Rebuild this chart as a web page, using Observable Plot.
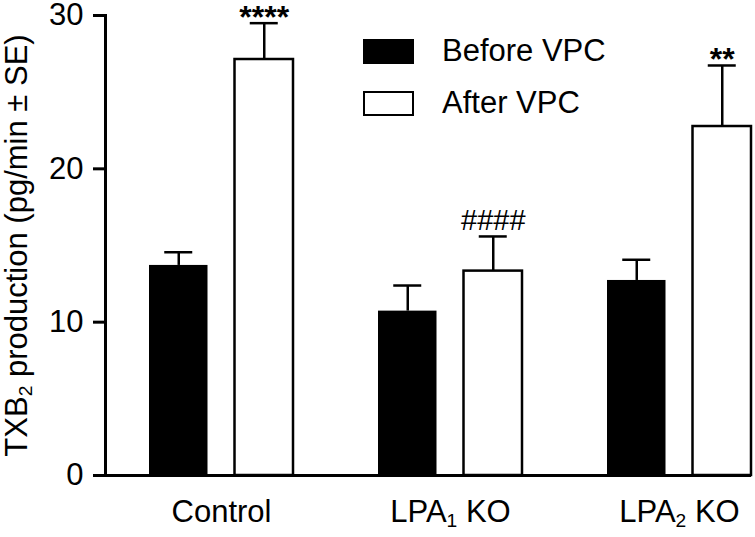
<!DOCTYPE html>
<html><head><meta charset="utf-8">
<script src="https://cdn.jsdelivr.net/npm/d3@7"></script>
<script src="https://cdn.jsdelivr.net/npm/@observablehq/plot@0.6"></script>
<style>
body{margin:0;background:#fff;font-family:"Liberation Sans",Arial,sans-serif}
#wrap{position:relative;width:755px;height:537px;overflow:hidden}
.lg{position:absolute;left:363px;display:flex;align-items:center;font-size:31px;color:#000;white-space:nowrap}
.sw{width:51px;height:25px;box-sizing:border-box;margin-right:28px}
</style></head><body><div id="wrap"></div>
<script>
const groups = ["Control", "LPA₁ KO", "LPA₂ KO"];
const beforeMean = [13.7, 10.72, 12.72];
const beforeSE = [0.86, 1.67, 1.35];
const afterMean = [27.13, 13.33, 22.76];
const afterSE = [2.37, 2.26, 3.98];
const sigLabels = ["****", "####", "**"];
const seriesNames = ["Before VPC", "After VPC"];
const yTicks = [0, 10, 20, 30];
const yLabel = "TXB₂ production (pg/min ± SE)";

const data = groups.map((g, i) => ({
  group: g, before: beforeMean[i], bSE: beforeSE[i],
  after: afterMean[i], aSE: afterSE[i], sig: sigLabels[i]
}));

const bandW = 144, barW = 58.5, off = (bandW - barW);
const shift = (bandW - barW) / 2;
const capW = 28;
const capIn = (barW - capW) / 2;
const font = "'Liberation Sans', Arial, sans-serif";

const svg = Plot.plot({
  width: 755, height: 537,
  marginLeft: 105, marginRight: 4, marginTop: 15, marginBottom: 62,
  style: {fontFamily: font, fontSize: "31px", color: "#000", background: "#fff", overflow: "visible"},
  x: {domain: groups, range: [148, 751], paddingInner: 0.3725, paddingOuter: 0},
  y: {domain: [0, 30], range: [475, 15]},
  marks: [
    Plot.barY(data, {x: "group", y: "before", fill: "#000", insetRight: off}),
    Plot.barY(data, {x: "group", y: "after", fill: "#fff", stroke: "#000", strokeWidth: 2.5, insetLeft: off}),
    Plot.ruleX(data, {x: "group", y1: "before", y2: d => d.before + d.bSE, dx: -shift, stroke: "#000", strokeWidth: 2.5}),
    Plot.tickY(data, {x: "group", y: d => d.before + d.bSE, insetLeft: capIn, insetRight: bandW - barW + capIn, stroke: "#000", strokeWidth: 2.5}),
    Plot.ruleX(data, {x: "group", y1: "after", y2: d => d.after + d.aSE, dx: shift, stroke: "#000", strokeWidth: 2.5}),
    Plot.tickY(data, {x: "group", y: d => d.after + d.aSE, insetLeft: bandW - barW + capIn, insetRight: capIn, stroke: "#000", strokeWidth: 2.5}),
    Plot.text(data.filter(d => d.sig.includes("*")), {x: "group", y: d => d.after + d.aSE, text: "sig", dx: shift, dy: 5, lineAnchor: "bottom", fontSize: 32, fontWeight: "bold", fill: "#000"}),
    Plot.text(data.filter(d => d.sig.includes("#")), {x: "group", y: d => d.after + d.aSE, text: "sig", dx: shift, dy: -6, lineAnchor: "bottom", fontSize: 29, fill: "#000"}),
    Plot.ruleY([0], {stroke: "#000", strokeWidth: 3}),
    Plot.frame({anchor: "left", stroke: "#000", strokeWidth: 3}),
    Plot.axisY({ticks: yTicks, tickSize: 12, tickPadding: 10, strokeWidth: 3, label: yLabel, labelAnchor: "center", labelOffset: 101, labelArrow: "none", fontSize: 31}),
    Plot.axisX({tickSize: 0, tickPadding: 24, label: null, fontSize: 31})
  ]
});
document.getElementById("wrap").appendChild(svg);

// render unicode subscripts as real lowered, smaller digits
const subMap = {"₁": "1", "₂": "2"};
svg.querySelectorAll("text").forEach(t => {
  const targets = t.querySelectorAll("tspan").length ? Array.from(t.querySelectorAll("tspan")) : [t];
  targets.forEach(el => {
    if (el.children && el.children.length) return;
    const s = el.textContent;
    if (!/[₁₂]/.test(s)) return;
    el.textContent = "";
    const parts = s.split(/([₁₂])/);
    const ns = "http://www.w3.org/2000/svg";
    parts.forEach(p => {
      if (!p) return;
      const sp = document.createElementNS(ns, "tspan");
      if (subMap[p]) {
        sp.textContent = subMap[p];
        sp.setAttribute("font-size", "62%");
        sp.setAttribute("baseline-shift", "-28%");
      } else {
        sp.textContent = p;
      }
      el.appendChild(sp);
    });
  });
});

const wrap = document.getElementById("wrap");
seriesNames.forEach((name, i) => {
  const row = document.createElement("div");
  row.className = "lg";
  row.style.top = (i === 0 ? 33 : 85) + "px";
  const sw = document.createElement("div");
  sw.className = "sw";
  sw.style.background = i === 0 ? "#000" : "#fff";
  sw.style.border = "2.5px solid #000";
  row.appendChild(sw);
  const t = document.createElement("span");
  t.textContent = name;
  row.appendChild(t);
  wrap.appendChild(row);
});
</script></body></html>
